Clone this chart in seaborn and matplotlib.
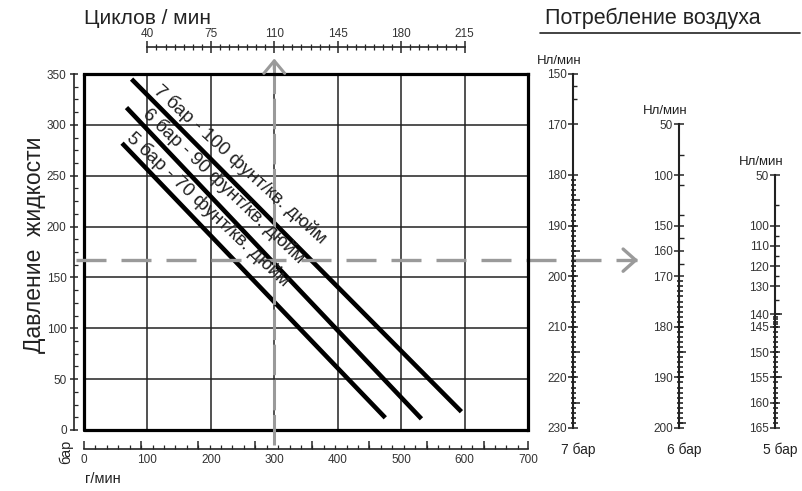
import matplotlib
matplotlib.use('Agg')
import matplotlib.pyplot as plt
import seaborn as sns
import pandas as pd
import numpy as np
from matplotlib.ticker import MultipleLocator, FixedLocator

sns.set_style('white')
plt.rcParams['font.family'] = ['Liberation Sans', 'DejaVu Sans']

# ---- data ----
series = ['7 бар - 100 фунт/кв. дюйм', '6 бар - 90 фунт/кв. дюйм', '5 бар - 70 фунт/кв. дюйм']
flow_start = [75, 67, 60]          # г/мин
flow_end = [595, 532, 475]
press_start = [345, 317, 282]      # бар
press_end = [18, 11, 12]
label_flow = [228, 202, 178]       # where each label sits along its line

cycle_ticks = [40, 75, 110, 145, 180, 215]   # Циклов / мин
cycle_flow = [100, 600]                      # flow at 40 and 215 cycles

guide_flow = 300
guide_pressure = 167

# air consumption nomogram scales (value -> step along scale)
scale_names = ['7 бар', '6 бар', '5 бар']
scale_vals = [
    [150, 170, 180, 190, 200, 210, 220, 230],
    [50, 100, 150, 160, 170, 180, 190, 200],
    [50, 100, 110, 120, 130, 140, 145, 150, 155, 160, 165],
]
scale_steps = [
    [0, 1, 2, 3, 4, 5, 6, 7],
    [0, 1, 2, 2.5, 3, 4, 5, 6],
    [0, 1, 1.4, 1.8, 2.2, 2.75, 3, 3.5, 4, 4.5, 5],
]
scale_sparse = [[155, 160], [80, 110, 140, 155, 165], [80, 105, 115, 125, 135]]
scale_dense = [(181, 230), (171, 200), (141, 165)]
scale_mid = [[185, 195, 205, 215, 225], [185, 199], [140, 155]]

# ---- layout (pixels) ----
W, H = 803, 491
GRAY = '#9a9a9a'
TXT = '#222222'

fig = plt.figure(figsize=(W / 100, H / 100), dpi=100)
ax = fig.add_axes([84 / W, 1 - 430 / H, 444 / W, 356 / H])

df = pd.DataFrame({
    'series': np.repeat(series, 2),
    'flow': np.ravel(np.column_stack([flow_start, flow_end])),
    'pressure': np.ravel(np.column_stack([press_start, press_end])),
})
sns.lineplot(data=df, x='flow', y='pressure', hue='series', palette=['black'] * 3,
             legend=False, linewidth=3.3, estimator=None, sort=False, ax=ax,
             solid_capstyle='butt')

ax.set_xlim(0, 700)
ax.set_ylim(0, 350)
ax.set_xlabel('')
ax.set_ylabel('')
ax.set_xticks(range(0, 701, 100))
ax.set_yticks(range(0, 351, 50))
ax.grid(True, color='#222222', lw=1.1)
ax.set_axisbelow(True)

# frame
for s in ['top', 'right']:
    ax.spines[s].set_linewidth(2.3)
    ax.spines[s].set_color('black')
ax.axvline(0, color='black', lw=2.3, clip_on=False)
ax.axhline(0, color='black', lw=2.3, clip_on=False)

# detached left / bottom axes
ax.spines['left'].set_position(('outward', 7.5))
ax.spines['bottom'].set_position(('outward', 13.5))
for s in ['left', 'bottom']:
    ax.spines[s].set_linewidth(1.2)
    ax.spines[s].set_color('#222222')
ax.yaxis.set_minor_locator(MultipleLocator(12.5))
ax.tick_params(axis='y', which='major', direction='inout', length=6, width=1.1,
               labelsize=8.5, labelcolor='#333333', pad=2, left=True)
ax.tick_params(axis='y', which='minor', direction='in', length=3, width=0.9, left=True)
ax.xaxis.set_minor_locator(MultipleLocator(18))
ax.tick_params(axis='x', which='major', length=0, labelsize=8.5, labelcolor='#333333', pad=4)
ax.tick_params(axis='x', which='minor', direction='in', length=3, width=0.9, bottom=True)

sec_b = ax.secondary_xaxis('bottom')
sec_b.spines['bottom'].set_position(('outward', 13.5))
sec_b.spines['bottom'].set_visible(False)
sec_b.set_xticks(list(range(0, 631, 90)) + [700])
sec_b.tick_params(direction='in', length=6, width=1.1, labelbottom=False)

# cycles axis on top
k = (cycle_ticks[-1] - cycle_ticks[0]) / (cycle_flow[1] - cycle_flow[0])
sec_t = ax.secondary_xaxis(1 + 27 / 356,
                           functions=(lambda x: cycle_ticks[0] + (x - cycle_flow[0]) * k,
                                      lambda c: cycle_flow[0] + (c - cycle_ticks[0]) / k))
sec_t.set_xticks(cycle_ticks)
sec_t.xaxis.set_minor_locator(FixedLocator(np.arange(cycle_ticks[0], cycle_ticks[-1] + 1, 5)))
sec_t.spines['top'].set_bounds(cycle_ticks[0], cycle_ticks[-1])
sec_t.spines['top'].set_linewidth(1.2)
sec_t.tick_params(which='major', direction='inout', length=8, width=1.1, labelsize=8.5,
                  labelcolor='#333333', pad=1)
sec_t.tick_params(which='minor', direction='inout', length=4, width=0.9)

# pressure line labels (text runs a little flatter than the lines)
for name, fs, fe, ps, pe, lf in zip(series, flow_start, flow_end, press_start, press_end, label_flow):
    p0 = ax.transData.transform((fs, ps))
    p1 = ax.transData.transform((fe, pe))
    ang = np.degrees(np.arctan2(p1[1] - p0[1], p1[0] - p0[0])) + 3
    ly = np.interp(lf, [fs, fe], [ps, pe])
    nx, ny = -np.sin(np.radians(ang)), np.cos(np.radians(ang))
    ax.annotate(name, xy=(lf, ly), xytext=(5.5 * nx, 5.5 * ny), textcoords='offset points',
                rotation=ang, rotation_mode='anchor', ha='center', va='bottom',
                fontsize=13.6, color=TXT)

# guide lines
ax.plot([guide_flow, guide_flow], [-15, 362], color=GRAY, lw=2.2,
        ls=(0, (10, 1.5)), clip_on=False)
ax.annotate('', xy=(guide_flow, 368), xytext=(guide_flow, 352),
            arrowprops=dict(arrowstyle='->,head_length=0.9,head_width=0.75', color=GRAY, lw=2.2),
            annotation_clip=False)
ax.plot([-12, 872], [guide_pressure, guide_pressure], color=GRAY, lw=2.4,
        ls=(0, (9, 4.5)), clip_on=False)
ax.annotate('', xy=(878, guide_pressure), xytext=(860, guide_pressure),
            arrowprops=dict(arrowstyle='->,head_length=0.9,head_width=0.8', color=GRAY, lw=2.4),
            annotation_clip=False)

# air consumption scales
scale_x = [573, 679, 775]
step_px = 50.6
for name, vals, steps, sparse, dense, mid, sx in zip(scale_names, scale_vals, scale_steps,
                                                    scale_sparse, scale_dense, scale_mid, scale_x):
    hh = steps[-1] * step_px
    sax = fig.add_axes([sx / W, 1 - 428 / H, 20 / W, hh / H])
    sax.set_facecolor('none')
    sax.set_xlim(0, 20)          # x in pixels to the right of the scale line
    sax.set_ylim(steps[-1], 0)
    for s in ['top', 'right', 'bottom']:
        sax.spines[s].set_visible(False)
    sax.spines['left'].set_linewidth(1.5)
    sax.spines['left'].set_color('#222222')
    sax.set_xticks([])
    sax.set_yticks(steps)
    sax.set_yticklabels([str(v) for v in vals])
    sax.tick_params(axis='y', which='major', direction='inout', length=7, width=1.1,
                    labelsize=8.5, labelcolor='#333333', pad=1, left=True)
    # graduation marks
    fine = np.arange(dense[0], dense[1])
    sax.hlines(np.interp(fine, vals, steps), -2, 3.5, color='#111111', lw=1.1, clip_on=False)
    sax.hlines(np.interp(sparse, vals, steps), 0, 4.5, color='#222222', lw=1.0, clip_on=False)
    sax.hlines(np.interp(mid, vals, steps), 0, 7, color='#222222', lw=1.1, clip_on=False)
    sax.annotate('Нл/мин', xy=(0, 1), xycoords='axes fraction', xytext=(-10, 5),
                 textcoords='offset points', ha='center', va='bottom', fontsize=9.5, color=TXT)
    sax.annotate(name, xy=(0, 0), xycoords='axes fraction', xytext=(4, -16),
                 textcoords='offset points', ha='center', va='center', fontsize=10, color=TXT)

# titles / labels
fig.text(84 / W, 1 - 18 / H, 'Циклов / мин', fontsize=15, color=TXT, va='center')
fig.text(545 / W, 1 - 18 / H, 'Потребление воздуха', fontsize=15.5, color=TXT, va='center')
fig.add_artist(plt.Line2D([540 / W, 800 / W], [1 - 33 / H, 1 - 33 / H], color=TXT, lw=1.2))
fig.text(35 / W, 1 - 245 / H, 'Давление  жидкости', fontsize=16.5, color=TXT,
         rotation=90, ha='center', va='center')
fig.text(66 / W, 1 - 452 / H, 'бар', fontsize=10.5, color=TXT, rotation=90, ha='center', va='center')
fig.text(85 / W, 1 - 479 / H, 'г/мин', fontsize=10.5, color=TXT, ha='left', va='center')

fig.savefig('out.png', dpi=100)
